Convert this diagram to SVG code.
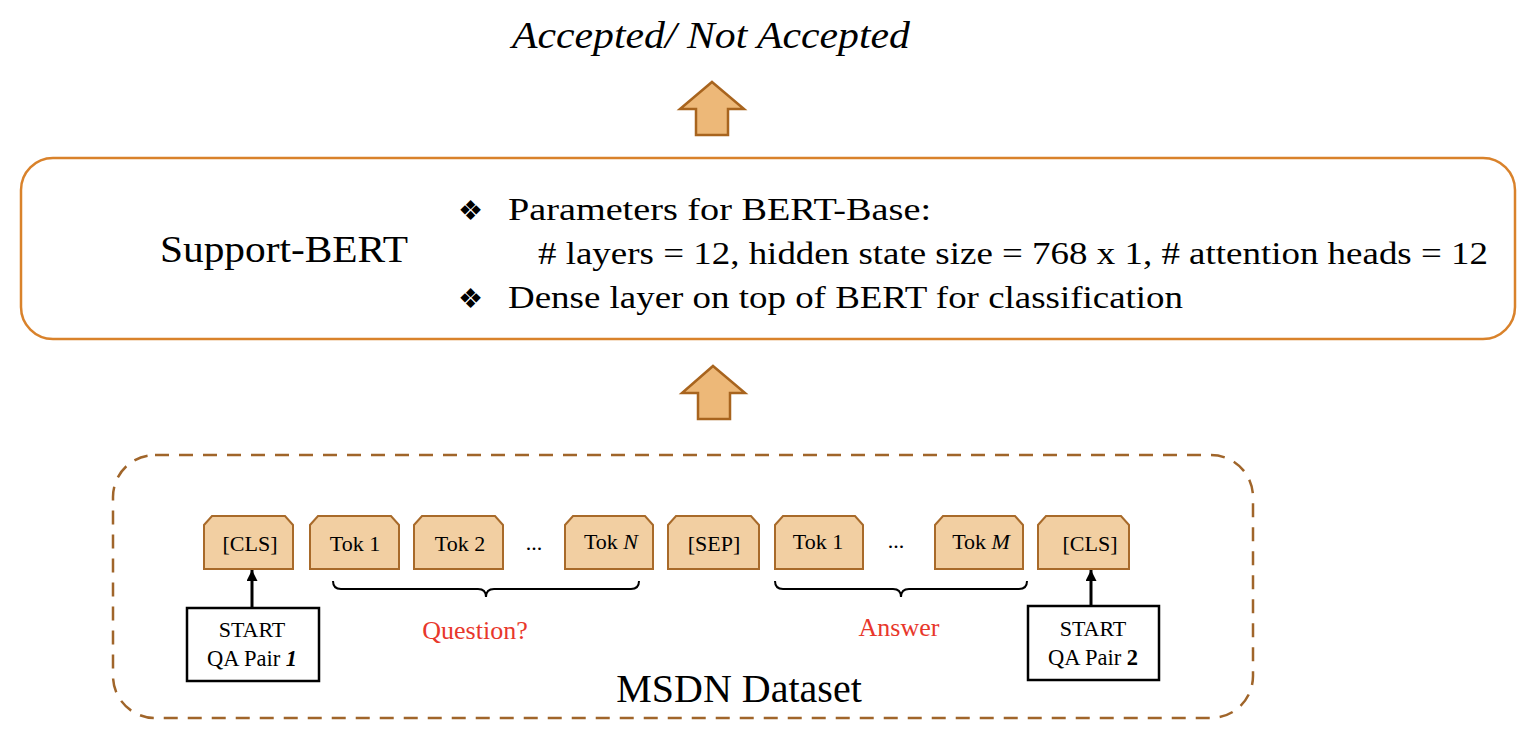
<svg xmlns="http://www.w3.org/2000/svg" width="1528" height="756" viewBox="0 0 1528 756" font-family="'Liberation Serif', 'Times New Roman', Times, serif">
<defs>
<style>
text{font-family:'Liberation Serif','Times New Roman',Times,serif}
.t{fill:#000}
.tok{fill:#F2CFA2;stroke:#A86A2A;stroke-width:2}
.tk{font-size:22px;text-anchor:middle;fill:#000}
.arw{fill:#EDB878;stroke:#A8641E;stroke-width:2.5}
.brace{fill:none;stroke:#000;stroke-width:2}
.sbox{fill:#fff;stroke:#000;stroke-width:2.5}
.red{font-size:26px;fill:#E8372B;text-anchor:middle}
</style>
<marker id="ah" viewBox="0 0 10 10" refX="10" refY="5" markerWidth="11" markerHeight="11" markerUnits="userSpaceOnUse" orient="auto">
<path d="M0,0 L10,5 L0,10 Z" fill="#000"/>
</marker>
</defs>
<rect width="1528" height="756" fill="#fff"/>

<g id="output">
<text class="t" x="711" y="48" font-size="37" font-style="italic" text-anchor="middle" textLength="398" lengthAdjust="spacingAndGlyphs">Accepted/ Not Accepted</text>
</g>

<g id="arrow-top">
<path class="arw" d="M712,82 L744,109 L728,109 L728,135 L696,135 L696,109 L680,109 Z"/>
</g>

<g id="support-bert">
<rect x="21" y="158" width="1494" height="181" rx="32" ry="32" fill="#fff" stroke="#D9822B" stroke-width="2.5"/>
<text class="t" x="160" y="262" font-size="37" textLength="248" lengthAdjust="spacingAndGlyphs">Support-BERT</text>
<text class="t" x="458" y="220" font-size="28">❖</text>
<text class="t" x="508" y="220" font-size="31" textLength="423" lengthAdjust="spacingAndGlyphs">Parameters for  BERT-Base:</text>
<text class="t" x="538" y="264" font-size="31" textLength="950" lengthAdjust="spacingAndGlyphs"># layers = 12, hidden state size = 768 x 1, # attention heads = 12</text>
<text class="t" x="458" y="308" font-size="28">❖</text>
<text class="t" x="508" y="308" font-size="31" textLength="675" lengthAdjust="spacingAndGlyphs">Dense layer on top of BERT for classification</text>
</g>

<g id="arrow-mid">
<path class="arw" d="M713,366 L745,393 L730,393 L730,419 L698,419 L698,393 L682,393 Z"/>
</g>

<g id="dataset">
<rect x="113" y="455" width="1140" height="263" rx="42" ry="42" fill="none" stroke="#A0652A" stroke-width="2.5" stroke-dasharray="14,10"/>
<text class="t" x="739" y="702" font-size="40" text-anchor="middle">MSDN Dataset</text>
</g>

<g id="tok-cls1"><path class="tok" d="M212,516 L285,516 L293,525 L293,569 L204,569 L204,525 Z"/><text class="tk" x="250" y="551">[CLS]</text></g>
<g id="tok-q1"><path class="tok" d="M318,516 L391,516 L399,525 L399,569 L310,569 L310,525 Z"/><text class="tk" x="355" y="551">Tok 1</text></g>
<g id="tok-q2"><path class="tok" d="M422,516 L495,516 L503,525 L503,569 L414,569 L414,525 Z"/><text class="tk" x="460" y="551">Tok 2</text></g>
<text class="tk" x="534" y="550">...</text>
<g id="tok-qN"><path class="tok" d="M573,516 L645,516 L653,525 L653,569 L565,569 L565,525 Z"/><text class="tk" x="611" y="549">Tok <tspan font-style="italic">N</tspan></text></g>
<g id="tok-sep"><path class="tok" d="M676,516 L751,516 L759,525 L759,569 L668,569 L668,525 Z"/><text class="tk" x="714" y="551">[SEP]</text></g>
<g id="tok-a1"><path class="tok" d="M783,516 L855,516 L863,525 L863,569 L775,569 L775,525 Z"/><text class="tk" x="818" y="549">Tok 1</text></g>
<text class="tk" x="896" y="548">...</text>
<g id="tok-aM"><path class="tok" d="M943,516 L1015,516 L1023,525 L1023,569 L935,569 L935,525 Z"/><text class="tk" x="981" y="549">Tok <tspan font-style="italic">M</tspan></text></g>
<g id="tok-cls2"><path class="tok" d="M1046,516 L1121,516 L1129,525 L1129,569 L1038,569 L1038,525 Z"/><text class="tk" x="1090" y="551">[CLS]</text></g>

<g id="start1">
<rect class="sbox" x="187" y="608" width="132" height="73"/>
<text class="t" x="252" y="637" font-size="22" text-anchor="middle">START</text>
<text class="t" x="252" y="666" font-size="22.5" text-anchor="middle">QA Pair <tspan font-style="italic" font-weight="bold">1</tspan></text>
</g>
<g id="start2">
<rect class="sbox" x="1028" y="606" width="131" height="74"/>
<text class="t" x="1093" y="636" font-size="22" text-anchor="middle">START</text>
<text class="t" x="1093" y="665" font-size="22.5" text-anchor="middle">QA Pair <tspan font-weight="bold">2</tspan></text>
</g>

<g id="labels">
<text class="red" x="475" y="639">Question?</text>
<text class="red" x="899" y="636">Answer</text>
</g>

<g id="connectors">
<line x1="252" y1="607" x2="252" y2="570" stroke="#000" stroke-width="3" marker-end="url(#ah)"/>
<line x1="1091" y1="605" x2="1091" y2="570" stroke="#000" stroke-width="3" marker-end="url(#ah)"/>
<path class="brace" d="M333,581 Q333,589 341,589 L478,589 Q486,589 486,597 Q486,589 494,589 L631,589 Q639,589 639,581"/>
<path class="brace" d="M775,581 Q775,589 783,589 L893,589 Q901,589 901,597 Q901,589 909,589 L1019,589 Q1027,589 1027,581"/>
</g>
</svg>
